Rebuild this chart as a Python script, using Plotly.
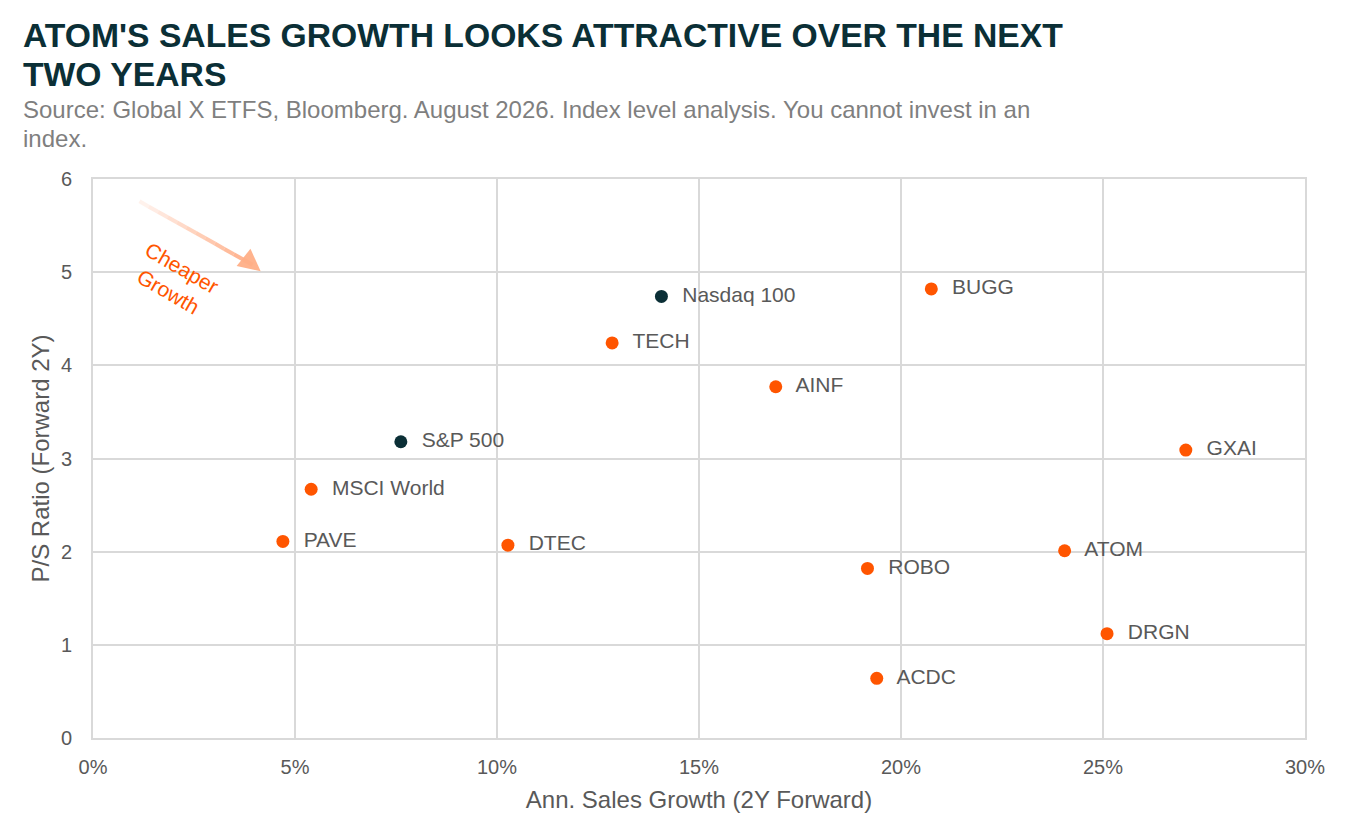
import plotly.graph_objects as go

# funds and benchmark indices: annualised sales growth (%) vs P/S ratio
funds = ['BUGG', 'TECH', 'AINF', 'GXAI', 'MSCI World', 'PAVE', 'DTEC', 'ATOM', 'ROBO', 'DRGN', 'ACDC']
funds_growth = [20.75, 12.85, 16.9, 27.05, 5.4, 4.7, 10.27, 24.05, 19.17, 25.1, 19.4]
funds_ps = [4.82, 4.24, 3.77, 3.09, 2.67, 2.11, 2.07, 2.01, 1.82, 1.12, 0.64]

benchmarks = ['Nasdaq 100', 'S&P 500']
bench_growth = [14.07, 7.62]
bench_ps = [4.74, 3.18]

orange = '#FF5500'
dark = '#0B2F36'
grey_txt = '#595959'
grid = '#D9D9D9'
font = 'Liberation Sans, Arial, sans-serif'

fig = go.Figure()

fig.add_trace(go.Scatter(
    x=funds_growth, y=funds_ps, text=funds, mode='markers+text',
    textposition='middle right', textfont=dict(size=21, color=grey_txt, family=font),
    marker=dict(size=13, color=orange), cliponaxis=False, showlegend=False,
    texttemplate='  %{text}'))

fig.add_trace(go.Scatter(
    x=bench_growth, y=bench_ps, text=benchmarks, mode='markers+text',
    textposition='middle right', textfont=dict(size=21, color=grey_txt, family=font),
    marker=dict(size=13, color=dark), cliponaxis=False, showlegend=False,
    texttemplate='  %{text}'))

# "cheaper growth" arrow, faded at its tail (drawn as segments of rising opacity)
x0, y0, x1, y1 = 1.15, 5.76, 3.95, 5.08
n = 12
for i in range(n):
    a = x0 + (x1 - x0) * i / n
    b = y0 + (y1 - y0) * i / n
    c = x0 + (x1 - x0) * (i + 1) / n
    d = y0 + (y1 - y0) * (i + 1) / n
    fig.add_shape(type='line', x0=a, y0=b, x1=c, y1=d, xref='x', yref='y',
                  line=dict(color='rgba(255,170,130,%.2f)' % (0.08 + 0.85 * (i + 1) / n), width=4))
fig.add_annotation(x=4.15, y=5.01, ax=x1, ay=y1, axref='x', ayref='y', xref='x', yref='y',
                   text='', showarrow=True, arrowhead=2, arrowsize=1.1, arrowwidth=4,
                   arrowcolor='rgba(255,175,135,0.95)')
fig.add_annotation(x=2.05, y=4.92, xref='x', yref='y', text='Cheaper<br>Growth',
                   showarrow=False, textangle=30, font=dict(size=21, color=orange, family=font))

# title and source, one annotation per line (paper coords relative to the plot area)
tx = -0.0595
title_lines = ["<b>ATOM'S SALES GROWTH LOOKS ATTRACTIVE OVER THE NEXT</b>", "<b>TWO YEARS</b>"]
for txt, yy in zip(title_lines, [1.2575, 1.1880]):
    fig.add_annotation(x=tx, y=yy, xref='paper', yref='paper', xanchor='left', yanchor='middle',
                       text=txt, showarrow=False, font=dict(size=33.7, color='#0B2F36', family=font))
sub_lines = ['Source: Global X ETFS, Bloomberg. August 2026. Index level analysis. You cannot invest in an',
             'index.']
for txt, yy in zip(sub_lines, [1.1252, 1.0733]):
    fig.add_annotation(x=tx, y=yy, xref='paper', yref='paper', xanchor='left', yanchor='middle',
                       text=txt, showarrow=False, font=dict(size=24, color='#7F7F7F', family=font))

fig.update_xaxes(range=[0, 30], dtick=5, ticksuffix='%', showgrid=True, gridcolor=grid, gridwidth=1.5,
                 showline=True, linecolor=grid, linewidth=2, mirror=True, zeroline=False,
                 ticklabelstandoff=10, tickfont=dict(size=20, color=grey_txt, family=font),
                 title=dict(text='Ann. Sales Growth (2Y Forward)', standoff=14,
                            font=dict(size=24, color=grey_txt, family=font)))
fig.update_yaxes(range=[0, 6], dtick=1, showgrid=True, gridcolor=grid, gridwidth=1.5,
                 showline=True, linecolor=grid, linewidth=2, mirror=True, zeroline=False,
                 ticklabelstandoff=15, tickfont=dict(size=20, color=grey_txt, family=font),
                 title=dict(text='P/S Ratio (Forward 2Y)', standoff=4,
                            font=dict(size=24, color=grey_txt, family=font)))

fig.update_layout(width=1350, height=835, plot_bgcolor='white', paper_bgcolor='white',
                  margin=dict(l=93, r=45, t=179, b=97), font=dict(family=font))

fig.write_html('out.html', config={'displayModeBar': False},
               post_script="document.body.style.margin='0px';")
